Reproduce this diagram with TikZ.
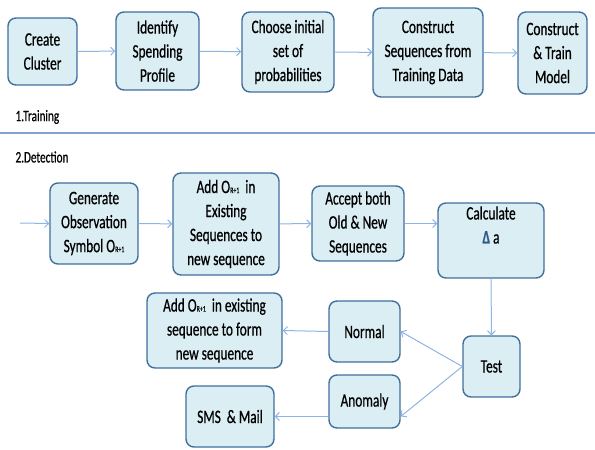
\documentclass[tikz,border=0pt]{standalone}
\usepackage{fontspec}
\setmainfont{Carlito}[FakeStretch=0.7,FakeBold=0.6]
\usetikzlibrary{arrows,%
		arrows.meta,%
		calc,%
		positioning}
\definecolor{boxfill}{HTML}{DBEEF4}
\definecolor{boxline}{HTML}{41709C}
\definecolor{linkblue}{HTML}{8EB4E3}
\definecolor{deltablue}{HTML}{2E5C8A}
\newcommand{\orsub}{O{\fontsize{8.5bp}{8.5bp}\selectfont R+1}}

\tikzset{
	proc/.style={draw=boxline, line width=1.4bp, fill=boxfill, rounded corners=8bp,
		align=center, inner sep=0pt, text=black,
		font=\fontsize{19bp}{24bp}\selectfont},
	link/.style={draw=linkblue, line width=1bp, -{Straight Barb[length=4bp,width=8bp]}},
	part/.style={anchor=west, text=black, font=\fontsize{16bp}{19bp}\selectfont}
}

\begin{document}
\begin{tikzpicture}[x=1bp,y=-1bp]
\useasboundingbox (0,0) rectangle (595,450);

% training
\node[proc, minimum width=69bp, minimum height=67bp] (cluster) at (42.5,51.5) {Create\\Cluster};
\node[proc, minimum width=83bp, minimum height=78bp] (profile) at (157.5,51) {Identify\\Spending\\Profile};
\node[proc, minimum width=92bp, minimum height=80bp] (prob) at (288,52) {Choose initial\\set of\\probabilities};
\node[proc, minimum width=110bp, minimum height=89bp] (seq) at (428,52.5) {Construct\\Sequences from\\Training Data};
\node[proc, minimum width=69bp, minimum height=82bp] (model) at (552.5,53) {Construct\\\& Train\\Model};

\draw[link] (cluster) -- (profile);
\draw[link] (profile) -- (prob);
\draw[link] (prob) -- (seq);
\draw[link] (seq) -- (model);

\node[part] (training) at (12,117) {1.Training};
\draw[draw=linkblue!90!black, line width=1.5bp] (0,133) -- (595,133);
\node[part] (detection) at (12,157) {2.Detection};

% detection
\coordinate (in) at (20,223);
\node[proc, minimum width=88bp, minimum height=81bp] (gen) at (94,223.5) {Generate\\Observation\\Symbol \orsub};
\node[proc, minimum width=106bp, minimum height=102bp] (addseq) at (226,224) {Add \orsub\ \ in\\Existing\\Sequences to\\new sequence};
\node[proc, minimum width=92bp, minimum height=75bp] (accept) at (358,223.5) {Accept both\\Old \& New\\Sequences};
\node[proc, minimum width=106bp, minimum height=75bp] (calc) at (491,240.5) {Calculate\\\textcolor{deltablue}{\textbf{Δ}} a\hspace*{12bp}\\\strut};

\draw[link] (in) -- (gen.west);
\draw[link] (gen) -- (addseq);
\draw[link] (addseq) -- (accept);
\draw[link] (accept.east) -- (accept.east -| calc.west);

\node[proc, minimum width=57bp, minimum height=61bp] (test) at (491.5,366.5) {Test};
\node[proc, minimum width=71bp, minimum height=61bp] (normal) at (364.5,331.5) {Normal};
\node[proc, minimum width=71bp, minimum height=53bp] (anomaly) at (364.5,401.5) {Anomaly};
\node[proc, minimum width=135bp, minimum height=75bp] (addold) at (214.5,330.5) {Add \orsub\ \ in existing\\sequence to form\\new sequence};
\node[proc, minimum width=88bp, minimum height=61bp] (sms) at (230,416.5) {SMS \ \& Mail};

\draw[link] (calc.south) -- (test.north);
\draw[link] (test.west) -- (normal.east);
\draw[link] (test.west) -- (anomaly.east |- sms.east);
\draw[link] (normal.west) -- (addold.east);
\draw[link] (anomaly.west |- sms.east) -- (sms.east);
\end{tikzpicture}
\end{document}
